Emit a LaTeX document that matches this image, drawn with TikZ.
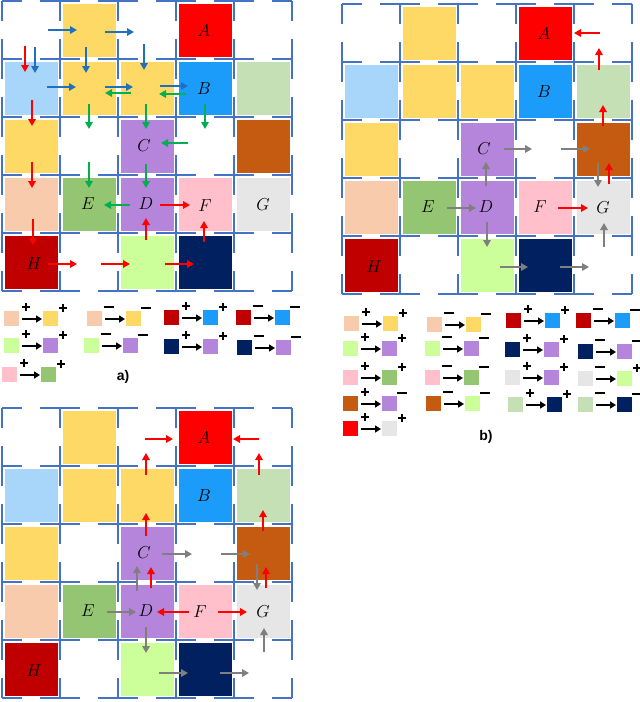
\documentclass[tikz,border=0pt]{standalone}
\usepackage{fontspec}
\setsansfont{Liberation Sans}
\usetikzlibrary{arrows.meta}
\definecolor{cyel}{HTML}{FFD966}
\definecolor{clblue}{HTML}{A7D6FA}
\definecolor{cred}{HTML}{FF0000}
\definecolor{cbblue}{HTML}{1B9BFA}
\definecolor{clgreen}{HTML}{C5E0B4}
\definecolor{cpurple}{HTML}{B485DA}
\definecolor{cbrown}{HTML}{C55A11}
\definecolor{cpeach}{HTML}{F8CBAD}
\definecolor{cegreen}{HTML}{93C572}
\definecolor{cpink}{HTML}{FFC0CB}
\definecolor{cgray}{HTML}{E7E6E6}
\definecolor{chred}{HTML}{C00000}
\definecolor{clime}{HTML}{CCFF99}
\definecolor{cnavy}{HTML}{002060}
\definecolor{gridblue}{HTML}{4472C4}
\definecolor{arblue}{HTML}{1F70C1}
\definecolor{argreen}{HTML}{00B050}
\definecolor{argray}{HTML}{7F7F7F}
\newcommand\sqcell[3]{\fill[#3] ({#1*58+2.5},{#2*58+2.5}) rectangle ({#1*58+55.5},{#2*58+55.5});}
\newcommand\cellsall{%
  \sqcell{1}{0}{cyel}\sqcell{3}{0}{cred}
  \sqcell{0}{1}{clblue}\sqcell{1}{1}{cyel}\sqcell{2}{1}{cyel}\sqcell{3}{1}{cbblue}\sqcell{4}{1}{clgreen}
  \sqcell{0}{2}{cyel}\sqcell{2}{2}{cpurple}\sqcell{4}{2}{cbrown}
  \sqcell{0}{3}{cpeach}\sqcell{1}{3}{cegreen}\sqcell{2}{3}{cpurple}\sqcell{3}{3}{cpink}\sqcell{4}{3}{cgray}
  \sqcell{0}{4}{chred}\sqcell{2}{4}{clime}\sqcell{3}{4}{cnavy}
  \foreach \i in {0,...,5}{
    \draw[gridline] (0,{\i*58}) -- (290,{\i*58});
    \draw[gridline] ({\i*58},0) -- ({\i*58},290);
  }
}
\newcommand\labelsall[1]{%
  \node[lab] (A#1) at (202,30) {$A$};
  \node[lab] (B#1) at (202,88) {$B$};
  \node[lab] (C#1) at (142,145) {$C$};
  \node[lab] (D#1) at (144,203) {$D$};
  \node[lab] (E#1) at (86,203) {$E$};
  \node[lab] (G#1) at (261,204) {$G$};
  \node[lab] (H#1) at (32,263) {$H$};
}
% legend item: x, y(center), col1, sign1, col2, sign2
\newcommand\pls[2]{\draw[sgn] ({#1-4},#2) -- ({#1+4},#2); \draw[sgn] (#1,{#2-4}) -- (#1,{#2+4});}
\newcommand\mns[2]{\draw[sgn] ({#1-5},#2) -- ({#1+5},#2);}
\newcommand\legitem[6]{%
  \fill[#3] (#1,{#2-7.5}) rectangle ({#1+15},{#2+7.5});
  \fill[#5] ({#1+39},{#2-7}) rectangle ({#1+54},{#2+8});
  \draw[legar] ({#1+18},{#2+1}) -- ({#1+38},{#2+1});
  \csname #4\endcsname{#1+22}{#2-11}
  \csname #6\endcsname{#1+59}{#2-10}
}
\begin{document}
\begin{tikzpicture}[x=1pt,y=-1pt,
  gridline/.style={draw=gridblue,line width=2.4pt,dash pattern=on 40pt off 18pt,dash phase=20pt},
  lab/.style={font=\fontsize{18}{18}\selectfont,inner sep=0pt},
  ar/.style={line width=1.6pt,-{Triangle[length=7pt,width=7.5pt]}},
  bar/.style={ar,draw=arblue,fill=arblue},
  gar/.style={ar,draw=argreen,fill=argreen},
  rar/.style={ar,draw=cred,fill=cred},
  yar/.style={ar,draw=argray,fill=argray},
  legar/.style={line width=1.8pt,-{Triangle[length=6pt,width=7pt]}},
  sgn/.style={line width=1.3pt,black},
  panlab/.style={font=\sffamily\bfseries\fontsize{14}{14}\selectfont,inner sep=0pt}]
\useasboundingbox (0,0) rectangle (640,702);
\fill[white] (0,0) rectangle (640,702);
% ---------- panel a
\begin{scope}[shift={(2,1)}]
  \cellsall
  \labelsall{a}
  \node[lab] (Fa) at (203,205) {$F$};
\end{scope}
% ---------- panel b
\begin{scope}[shift={(342,4)}]
  \cellsall
  \labelsall{b}
  \node[lab] (Fb) at (198,203) {$F$};
\end{scope}
% ---------- panel c
\begin{scope}[shift={(2,408)}]
  \cellsall
  \labelsall{c}
  \node[lab] (Fc) at (198,204) {$F$};
\end{scope}
% ---------- arrows a
\draw[bar] (48,30) -- (77,30);
\draw[bar] (105,32) -- (134,32);
\draw[bar] (35,47) -- (35,73);
\draw[bar] (86,47) -- (86,73);
\draw[bar] (144,44) -- (144,70);
\draw[bar] (47,87) -- (76,87);
\draw[bar] (105,87) -- (133,87);
\draw[bar] (160,86) -- (188,86);
\draw[gar] (131,93) -- (105,93);
\draw[gar] (186,94) -- (159,94);
\draw[gar] (89,104) -- (89,129);
\draw[gar] (146,104) -- (146,129);
\draw[gar] (205,104) -- (205,129);
\draw[gar] (188,143) -- (161,143);
\draw[gar] (89,162) -- (89,188);
\draw[gar] (146,164) -- (146,188);
\draw[gar] (130,205) -- (104,205);
\draw[rar] (25,46) -- (25,72);
\draw[rar] (32,100) -- (32,126);
\draw[rar] (32,162) -- (32,188);
\draw[rar] (33,219) -- (33,245);
\draw[rar] (160,205) -- (190,205);
\draw[rar] (146,240) -- (146,218);
\draw[rar] (204,242) -- (204,221);
\draw[rar] (48,264) -- (77,264);
\draw[rar] (101,264) -- (130,264);
\draw[rar] (165,264) -- (194,264);
% ---------- arrows b
\draw[rar] (600,33) -- (574,33);
\draw[rar] (599,70) -- (599,48);
\draw[rar] (603,126) -- (603,105);
\draw[rar] (609,184) -- (609,163);
\draw[rar] (558,208) -- (588,208);
\draw[yar] (598,163) -- (598,187);
\draw[yar] (504,149) -- (532,149);
\draw[yar] (561,149) -- (590,149);
\draw[yar] (486,186) -- (486,162);
\draw[yar] (447,208) -- (476,208);
\draw[yar] (604,247) -- (604,223);
\draw[yar] (487,222) -- (487,247);
\draw[yar] (500,267) -- (528,267);
\draw[yar] (560,267) -- (589,267);
% ---------- arrows c
\draw[rar] (145,439) -- (173,439);
\draw[rar] (259,439) -- (233,439);
\draw[rar] (146,475) -- (146,453);
\draw[rar] (259,475) -- (259,453);
\draw[rar] (146,536) -- (146,513);
\draw[rar] (263,531) -- (263,510);
\draw[rar] (266,588) -- (266,567);
\draw[rar] (151,588) -- (151,567);
\draw[rar] (189,612) -- (157,612);
\draw[rar] (218,612) -- (247,612);
\draw[yar] (162,554) -- (192,554);
\draw[yar] (221,554) -- (250,554);
\draw[yar] (257,564) -- (257,590);
\draw[yar] (137,591) -- (137,566);
\draw[yar] (107,612) -- (136,612);
\draw[yar] (146,627) -- (146,653);
\draw[yar] (264,652) -- (264,628);
\draw[yar] (159,673) -- (188,673);
\draw[yar] (220,673) -- (249,673);
% ---------- legend a
\legitem{4}{318}{cpeach}{pls}{cyel}{pls}
\legitem{87}{318}{cpeach}{mns}{cyel}{mns}
\legitem{164}{317}{chred}{pls}{cbblue}{pls}
\legitem{236}{317}{chred}{mns}{cbblue}{mns}
\legitem{4}{345}{clime}{pls}{cpurple}{pls}
\legitem{84}{345}{clime}{mns}{cpurple}{mns}
\legitem{164}{346}{cnavy}{pls}{cpurple}{pls}
\legitem{237}{347}{cnavy}{mns}{cpurple}{mns}
\legitem{2}{374}{cpink}{pls}{cegreen}{pls}
\node[panlab] (la) at (123,377) {a)};
% ---------- legend b
\legitem{344}{323}{cpeach}{pls}{cyel}{pls}
\legitem{427}{324}{cpeach}{mns}{cyel}{mns}
\legitem{506}{320}{chred}{pls}{cbblue}{pls}
\legitem{576}{320}{chred}{mns}{cbblue}{mns}
\legitem{343}{348}{clime}{pls}{cpurple}{pls}
\legitem{425}{348}{clime}{mns}{cpurple}{mns}
\legitem{505}{349}{cnavy}{pls}{cpurple}{pls}
\legitem{578}{351}{cnavy}{mns}{cpurple}{mns}
\legitem{343}{377}{cpink}{pls}{cegreen}{pls}
\legitem{425}{377}{cpink}{mns}{cegreen}{mns}
\legitem{505}{377}{cgray}{pls}{cpurple}{pls}
\legitem{578}{378}{cgray}{mns}{clime}{pls}
\legitem{343}{403}{cbrown}{pls}{cpurple}{mns}
\legitem{426}{403}{cbrown}{mns}{clime}{mns}
\legitem{508}{404}{clgreen}{pls}{cnavy}{pls}
\legitem{578}{404}{clgreen}{mns}{cnavy}{mns}
\legitem{343}{428}{cred}{pls}{cgray}{pls}
\node[panlab] (lb) at (486,437) {b)};
\end{tikzpicture}
\end{document}
